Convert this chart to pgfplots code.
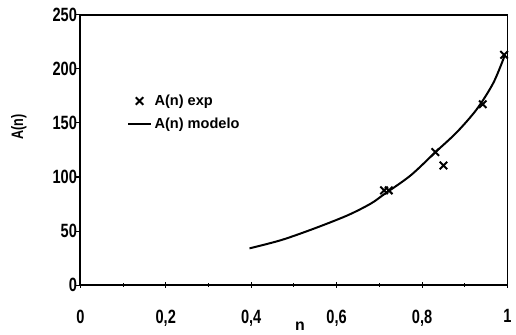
\documentclass[border=0pt]{standalone}
\usepackage{pgfplots}
\pgfplotsset{compat=1.18}
\usepackage{graphicx}
\usepackage{fontspec}
\setmainfont{Liberation Sans}
\newcommand{\cond}[1]{\scalebox{0.76}[1]{#1}}
\begin{document}
\begin{tikzpicture}
\begin{axis}[
  scale only axis,
  width=322.5pt, height=204pt,
  xmin=0, xmax=1, ymin=0, ymax=250,
  axis line style={line width=1.3pt},
  xtick={0,0.2,0.4,0.6,0.8,1},
  xticklabels={\cond{0},\cond{0,2},\cond{0,4},\cond{0,6},\cond{0,8},\cond{1}},
  ytick={0,50,100,150,200,250},
  yticklabels={\cond{0},\cond{50},\cond{100},\cond{150},\cond{200},\cond{250}},
  minor xtick={0.1,0.3,0.5,0.7,0.9},
  tick style={black, line width=0.8pt},
  major tick length=4pt,
  minor tick length=2.5pt,
  xtick pos=bottom, ytick pos=left,
  xtick align=center, ytick align=outside,
  tick label style={font=\fontsize{14.5}{16}\selectfont\bfseries},
  xticklabel style={yshift=-13pt},
  yticklabel style={xshift=5pt},
  xlabel={n},
  xlabel style={font=\fontsize{12}{14}\selectfont\bfseries, at={(axis description cs:0.514,-0.152)}, anchor=center},
  ylabel={\cond{A(n)}},
  ylabel style={font=\fontsize{12.5}{14}\selectfont\bfseries, at={(axis description cs:-0.144,0.585)}, anchor=center},
  legend style={draw=none, fill=none, at={(0.10,0.725)}, anchor=north west,
    font=\fontsize{11}{13}\selectfont\bfseries, row sep=4pt},
  legend cell align=left,
  after end axis/.code={
    \draw[line width=0.9pt] (rel axis cs:0,1) -- (rel axis cs:1,1) -- (rel axis cs:1,0);
    \path (rel axis cs:-0.188,-0.173) rectangle (rel axis cs:1.0116,1.055);
  },
]
\addplot[only marks, mark=x, mark size=4pt, mark options={line width=1.5pt}, black]
  coordinates {(0.711,87.6) (0.722,87.6) (0.831,123) (0.850,110.6) (0.942,167.3) (0.992,213)};
\addlegendentry{A(n) exp}
\addplot[black, line width=1.5pt, smooth]
  coordinates {(0.396,34) (0.470,41.6) (0.548,52.4) (0.626,64.6) (0.680,75.4) (0.711,84) (0.773,101.4) (0.831,122.9) (0.881,141.3) (0.928,162.7) (0.967,187.2) (0.994,213)};
\addlegendentry{A(n) modelo}
\end{axis}
\end{tikzpicture}
\end{document}
